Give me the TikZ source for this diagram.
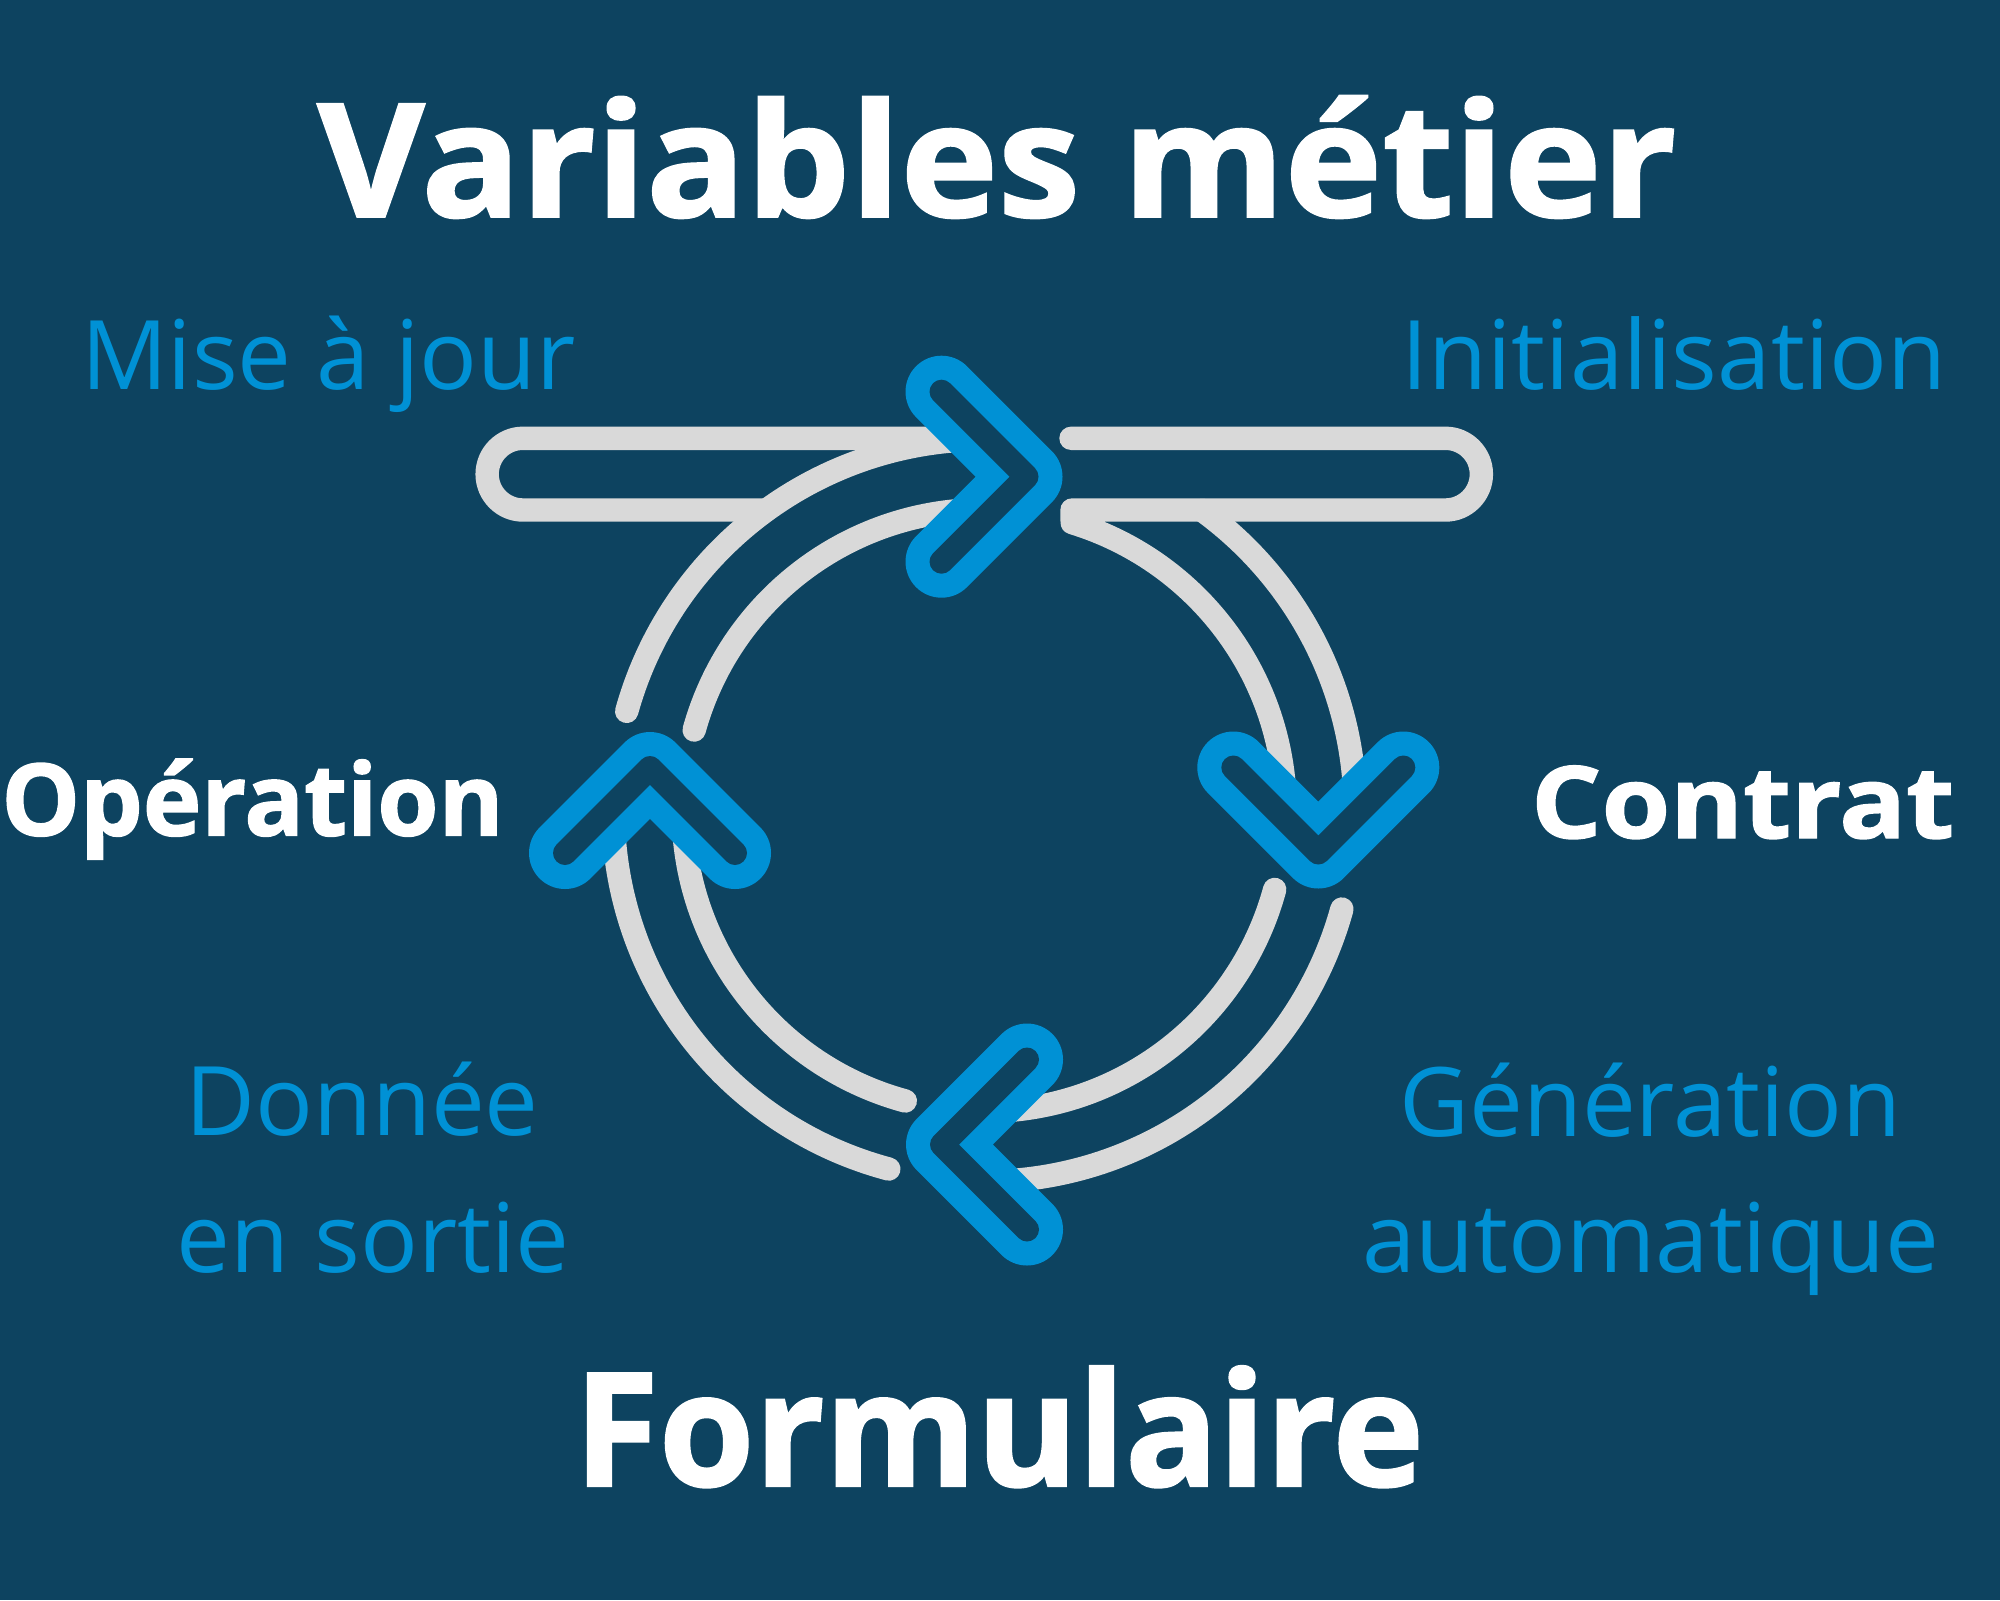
\documentclass[tikz,border=0pt]{standalone}
\usepackage{fontspec}
\setmainfont{Open Sans}
\newfontfamily\heavyfont{Open Sans}[UprightFont=* Bold,FakeBold=1.4]
\usetikzlibrary{calc}
\definecolor{bg}{HTML}{0D4360}
\definecolor{accent}{HTML}{0091D5}
\definecolor{track}{HTML}{D9D9D9}
\begin{document}
\begin{tikzpicture}[x=0.5pt,y=-0.5pt,
  track/.style={draw=track,line width=11.7pt,line cap=round,line join=round},
  chevout/.style={draw=accent,line width=36pt,line cap=round,line join=round},
  chevin/.style={draw=bg,line width=12pt,line cap=round,line join=round},
  headline/.style={text=white,font=\heavyfont\fontsize{79pt}{90pt}\selectfont,inner sep=0pt,anchor=base},
  phase/.style={text=accent,font=\fontsize{48pt}{60pt}\selectfont,inner sep=0pt,anchor=base},
  stage/.style={text=white,font=\heavyfont\fontsize{50pt}{60pt}\selectfont,inner sep=0pt,anchor=base}]
\fill[bg] (0,0) rectangle (2000,1600);
\useasboundingbox (0,0) rectangle (2000,1600);
\coordinate (C) at (984.2,810.5);

% left bar, crossed by the outer track of the upper-left arrow
\draw[track] (763,510) -- (523,510) arc[start angle=90,end angle=270,radius=35.85] -- (990,438.3);
\draw[track] ([shift={(195.5:371)}]C) arc[start angle=195.5,end angle=270,radius=371];
\draw[track] ([shift={(195.5:301)}]C) arc[start angle=195.5,end angle=268,radius=301];

% right bar, turning into the inner track of the upper-right arrow
\draw[track] (1071,438.3) -- (1445.5,438.3) arc[start angle=-90,end angle=90,radius=35.85]
  -- (1072,510) -- ([shift={(-73:301)}]C) arc[start angle=-73,end angle=-3,radius=301];
\draw[track] ([shift={(-54:371)}]C) arc[start angle=-54,end angle=-4,radius=371];

% lower-right arrow
\draw[track] ([shift={(15.4:371)}]C) arc[start angle=15.4,end angle=86,radius=371];
\draw[track] ([shift={(15.2:301)}]C) arc[start angle=15.2,end angle=86,radius=301];

% lower-left arrow
\draw[track] ([shift={(104.9:371)}]C) arc[start angle=104.9,end angle=184,radius=371];
\draw[track] ([shift={(105.2:301)}]C) arc[start angle=105.2,end angle=184,radius=301];

% chevron heads
\coordinate (hTop) at (1026.5,476.7);
\coordinate (hRight) at (1318.3,852.5);
\coordinate (hBottom) at (942,1144.5);
\coordinate (hLeft) at (650,768);
\foreach \s in {chevout,chevin}{
  \draw[\s] ([shift={(-85,-85)}]hTop) -- (hTop) -- ([shift={(-85,85)}]hTop);
  \draw[\s] ([shift={(-85,-85)}]hRight) -- (hRight) -- ([shift={(85,-85)}]hRight);
  \draw[\s] ([shift={(85,-85)}]hBottom) -- (hBottom) -- ([shift={(85,85)}]hBottom);
  \draw[\s] ([shift={(-85,85)}]hLeft) -- (hLeft) -- ([shift={(85,85)}]hLeft);
}

% labels
\node[headline] (ttl) at (997,216.7) {\scalebox{1.044}[1]{Variables métier}};
\node[headline] (form) at (999,1486) {\scalebox{0.978}[1]{Formulaire}};
\node[phase] (upd) at (328.3,389.3) {Mise à jour};
\node[phase] (init) at (1674,389.3) {Initialisation};
\node[stage] (op) at (252.5,835.5) {\scalebox{0.99}[1]{Opération}};
\node[stage] (ctr) at (1742.7,838) {\scalebox{1.108}[1]{Contrat}};
\node[phase] (out1) at (362,1135) {Donnée};
\node[phase] (out2) at (373,1272) {en sortie};
\node[phase] (gen1) at (1650.5,1136.5) {Génération};
\node[phase] (gen2) at (1650.5,1272) {automatique};
\end{tikzpicture}
\end{document}
